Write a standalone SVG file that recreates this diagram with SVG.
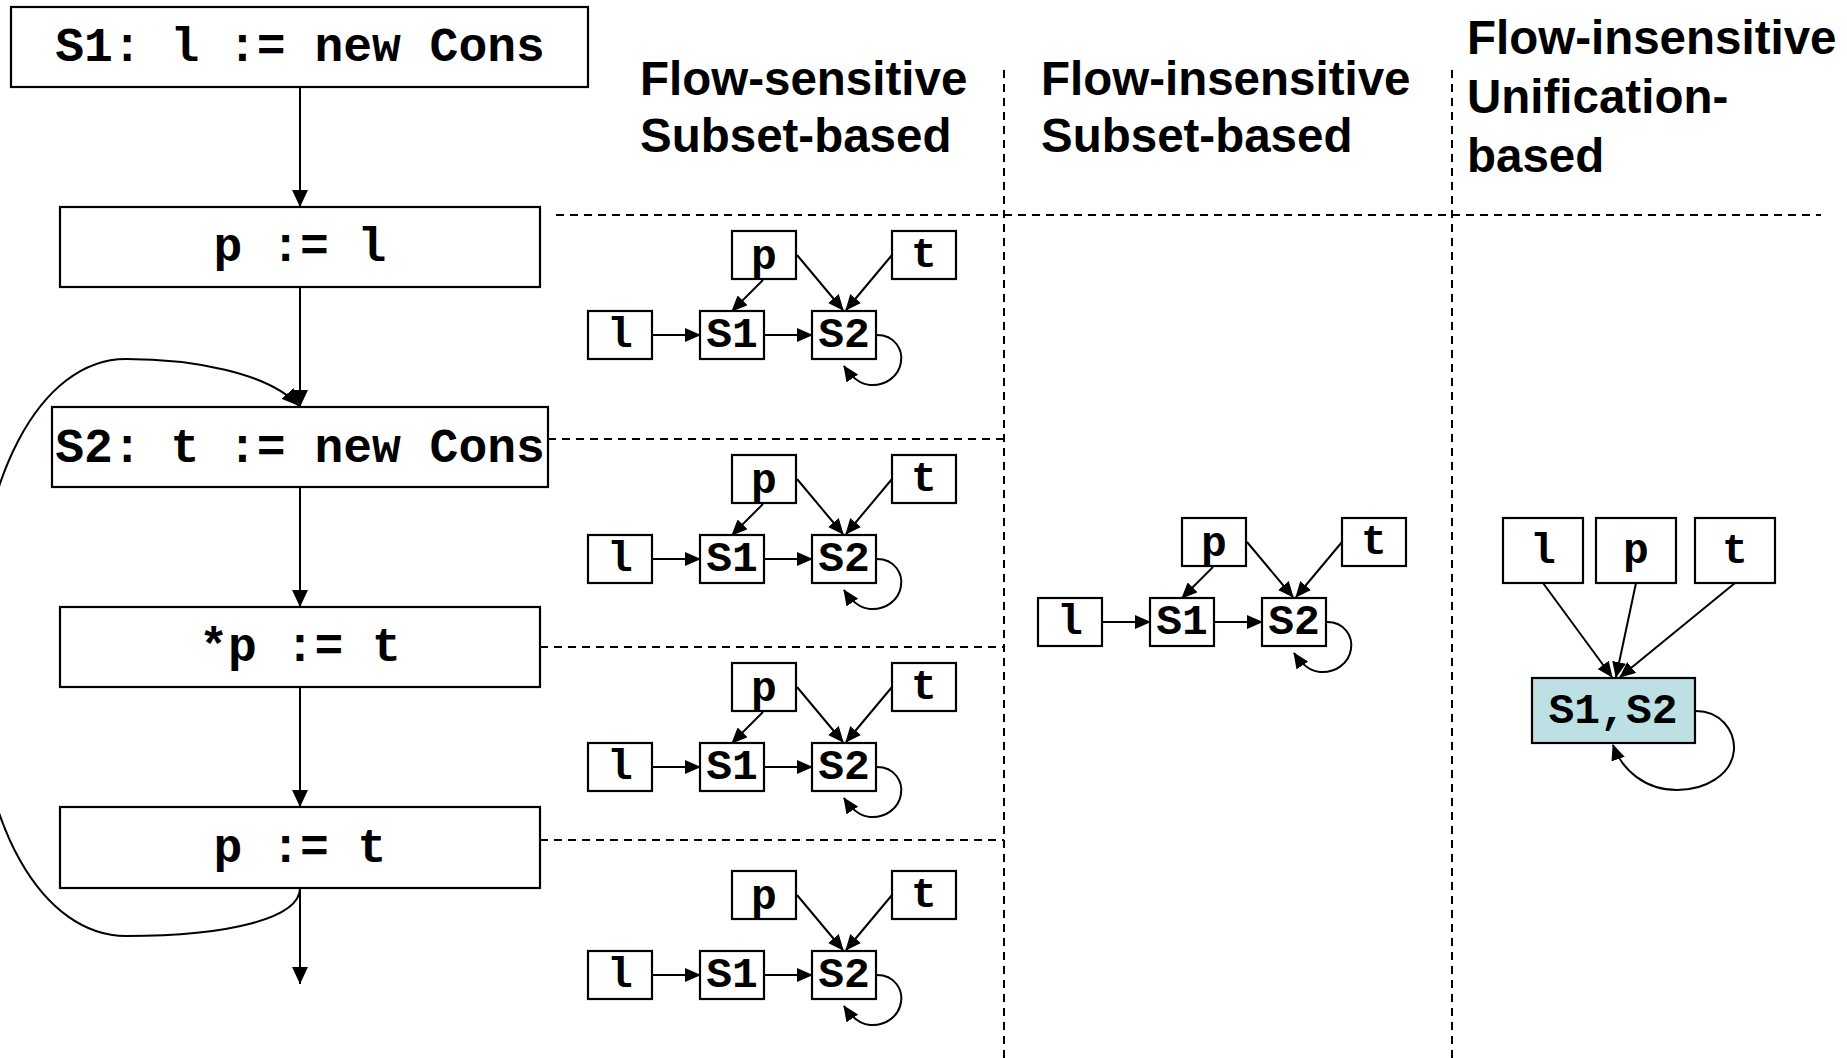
<svg xmlns="http://www.w3.org/2000/svg" width="1847" height="1058" viewBox="0 0 1847 1058">
<style>
.box{fill:#fff;stroke:#000;stroke-width:2.2}
.uni{fill:#bce0e3;stroke:#000;stroke-width:2.2}
.code{font-family:"Liberation Mono","Courier New",monospace;font-weight:bold;text-anchor:middle;fill:#000}
.big{font-size:48px}
.sm{font-size:43px}
.hdr{font-family:"Liberation Sans",Arial,sans-serif;font-weight:bold;font-size:47.5px;fill:#000}
.edge{fill:none;stroke:#000;stroke-width:2}
.dash{fill:none;stroke:#000;stroke-width:2;stroke-dasharray:8 6}
</style>
<defs>
<marker id="ah" markerUnits="userSpaceOnUse" markerWidth="16" markerHeight="14" refX="15" refY="7" orient="auto"><path d="M0,0 L16,7 L0,14 z" fill="#000"/></marker>
<marker id="ahb" markerUnits="userSpaceOnUse" markerWidth="17" markerHeight="16" refX="17" refY="8" orient="auto"><path d="M0,0 L17,8 L0,16 z" fill="#000"/></marker>
</defs>
<rect width="1847" height="1058" fill="#fff"/>

<g id="separators">
<line class="dash" x1="556" y1="215" x2="1821" y2="215"/>
<line class="dash" x1="548" y1="439" x2="1004" y2="439"/>
<line class="dash" x1="540" y1="647" x2="1004" y2="647"/>
<line class="dash" x1="540" y1="840" x2="1004" y2="840"/>
<line class="dash" x1="1004" y1="70" x2="1004" y2="1058"/>
<line class="dash" x1="1452" y1="70" x2="1452" y2="1058"/>
</g>

<g id="headers">
<text class="hdr" x="640" y="95">Flow-sensitive</text>
<text class="hdr" x="640" y="152">Subset-based</text>
<text class="hdr" x="1041" y="95">Flow-insensitive</text>
<text class="hdr" x="1041" y="152">Subset-based</text>
<text class="hdr" x="1467" y="54">Flow-insensitive</text>
<text class="hdr" x="1467" y="113">Unification-</text>
<text class="hdr" x="1467" y="172">based</text>
</g>

<g id="connectors">
<g id="cfg-edges">
<line class="edge" x1="300" y1="87" x2="300" y2="207" marker-end="url(#ahb)"/>
<line class="edge" x1="300" y1="287" x2="300" y2="407" marker-end="url(#ahb)"/>
<line class="edge" x1="300" y1="487" x2="300" y2="607" marker-end="url(#ahb)"/>
<line class="edge" x1="300" y1="687" x2="300" y2="807" marker-end="url(#ahb)"/>
<line class="edge" x1="300" y1="888" x2="300" y2="984" marker-end="url(#ahb)"/>
<path class="edge" d="M300,888 C300,918 230,936 126,936 C45,936 -25,830 -25,650 C-25,480 40,359 126,359 C190,359 268,372 299,406" marker-end="url(#ahb)"/>
</g>
<g id="g1-edges" transform="translate(588,231)">
<line class="edge" x1="65" y1="104" x2="112" y2="104" marker-end="url(#ah)"/>
<line class="edge" x1="177" y1="104" x2="224" y2="104" marker-end="url(#ah)"/>
<line class="edge" x1="175" y1="49" x2="144" y2="80" marker-end="url(#ah)"/>
<line class="edge" x1="209" y1="24" x2="255" y2="79" marker-end="url(#ah)"/>
<line class="edge" x1="304" y1="24" x2="258" y2="79" marker-end="url(#ah)"/>
<path class="edge" d="M289,104 C307,104 315,119 313,131 C311,145 298,155 282,154 C270,153 262,144 256,135" marker-end="url(#ah)"/>
</g>
<g id="g2-edges" transform="translate(588,455)">
<line class="edge" x1="65" y1="104" x2="112" y2="104" marker-end="url(#ah)"/>
<line class="edge" x1="177" y1="104" x2="224" y2="104" marker-end="url(#ah)"/>
<line class="edge" x1="175" y1="49" x2="144" y2="80" marker-end="url(#ah)"/>
<line class="edge" x1="209" y1="24" x2="255" y2="79" marker-end="url(#ah)"/>
<line class="edge" x1="304" y1="24" x2="258" y2="79" marker-end="url(#ah)"/>
<path class="edge" d="M289,104 C307,104 315,119 313,131 C311,145 298,155 282,154 C270,153 262,144 256,135" marker-end="url(#ah)"/>
</g>
<g id="g3-edges" transform="translate(588,663)">
<line class="edge" x1="65" y1="104" x2="112" y2="104" marker-end="url(#ah)"/>
<line class="edge" x1="177" y1="104" x2="224" y2="104" marker-end="url(#ah)"/>
<line class="edge" x1="175" y1="49" x2="144" y2="80" marker-end="url(#ah)"/>
<line class="edge" x1="209" y1="24" x2="255" y2="79" marker-end="url(#ah)"/>
<line class="edge" x1="304" y1="24" x2="258" y2="79" marker-end="url(#ah)"/>
<path class="edge" d="M289,104 C307,104 315,119 313,131 C311,145 298,155 282,154 C270,153 262,144 256,135" marker-end="url(#ah)"/>
</g>
<g id="g4-edges" transform="translate(588,871)">
<line class="edge" x1="65" y1="104" x2="112" y2="104" marker-end="url(#ah)"/>
<line class="edge" x1="177" y1="104" x2="224" y2="104" marker-end="url(#ah)"/>
<line class="edge" x1="209" y1="24" x2="255" y2="79" marker-end="url(#ah)"/>
<line class="edge" x1="304" y1="24" x2="258" y2="79" marker-end="url(#ah)"/>
<path class="edge" d="M289,104 C307,104 315,119 313,131 C311,145 298,155 282,154 C270,153 262,144 256,135" marker-end="url(#ah)"/>
</g>
<g id="fi-edges" transform="translate(1038,518)">
<line class="edge" x1="65" y1="104" x2="112" y2="104" marker-end="url(#ah)"/>
<line class="edge" x1="177" y1="104" x2="224" y2="104" marker-end="url(#ah)"/>
<line class="edge" x1="175" y1="49" x2="144" y2="80" marker-end="url(#ah)"/>
<line class="edge" x1="209" y1="24" x2="255" y2="79" marker-end="url(#ah)"/>
<line class="edge" x1="304" y1="24" x2="258" y2="79" marker-end="url(#ah)"/>
<path class="edge" d="M289,104 C307,104 315,119 313,131 C311,145 298,155 282,154 C270,153 262,144 256,135" marker-end="url(#ah)"/>
</g>
<g id="uni-edges">
<line class="edge" x1="1543" y1="583" x2="1612" y2="677" marker-end="url(#ah)"/>
<line class="edge" x1="1636" y1="583" x2="1616" y2="677" marker-end="url(#ah)"/>
<line class="edge" x1="1735" y1="583" x2="1620" y2="677" marker-end="url(#ah)"/>
<path class="edge" d="M1696,711 C1720,711 1735,730 1734,750 C1732,775 1705,790 1677,790 C1645,790 1622,770 1613,745" marker-end="url(#ah)"/>
</g>
</g>

<g id="n-s1"><rect class="box" x="11" y="7" width="577" height="80"/><text class="code big" x="300" y="61">S1: l := new Cons</text></g>
<g id="n-p-l"><rect class="box" x="60" y="207" width="480" height="80"/><text class="code big" x="300" y="261">p := l</text></g>
<g id="n-s2"><rect class="box" x="52" y="407" width="496" height="80"/><text class="code big" x="300" y="462">S2: t := new Cons</text></g>
<g id="n-star-p-t"><rect class="box" x="60" y="607" width="480" height="80"/><text class="code big" x="300" y="661">*p := t</text></g>
<g id="n-p-t"><rect class="box" x="60" y="807" width="480" height="81"/><text class="code big" x="300" y="862">p := t</text></g>

<g id="g1-p"><rect class="box" x="732" y="231" width="64" height="48"/><text class="code sm" x="764" y="269">p</text></g>
<g id="g1-t"><rect class="box" x="892" y="231" width="64" height="48"/><text class="code sm" x="924" y="267">t</text></g>
<g id="g1-l"><rect class="box" x="588" y="311" width="64" height="48"/><text class="code sm" x="620" y="347">l</text></g>
<g id="g1-S1"><rect class="box" x="700" y="311" width="64" height="48"/><text class="code sm" x="732" y="347">S1</text></g>
<g id="g1-S2"><rect class="box" x="812" y="311" width="64" height="48"/><text class="code sm" x="844" y="347">S2</text></g>

<g id="g2-p"><rect class="box" x="732" y="455" width="64" height="48"/><text class="code sm" x="764" y="493">p</text></g>
<g id="g2-t"><rect class="box" x="892" y="455" width="64" height="48"/><text class="code sm" x="924" y="491">t</text></g>
<g id="g2-l"><rect class="box" x="588" y="535" width="64" height="48"/><text class="code sm" x="620" y="571">l</text></g>
<g id="g2-S1"><rect class="box" x="700" y="535" width="64" height="48"/><text class="code sm" x="732" y="571">S1</text></g>
<g id="g2-S2"><rect class="box" x="812" y="535" width="64" height="48"/><text class="code sm" x="844" y="571">S2</text></g>

<g id="g3-p"><rect class="box" x="732" y="663" width="64" height="48"/><text class="code sm" x="764" y="701">p</text></g>
<g id="g3-t"><rect class="box" x="892" y="663" width="64" height="48"/><text class="code sm" x="924" y="699">t</text></g>
<g id="g3-l"><rect class="box" x="588" y="743" width="64" height="48"/><text class="code sm" x="620" y="779">l</text></g>
<g id="g3-S1"><rect class="box" x="700" y="743" width="64" height="48"/><text class="code sm" x="732" y="779">S1</text></g>
<g id="g3-S2"><rect class="box" x="812" y="743" width="64" height="48"/><text class="code sm" x="844" y="779">S2</text></g>

<g id="g4-p"><rect class="box" x="732" y="871" width="64" height="48"/><text class="code sm" x="764" y="909">p</text></g>
<g id="g4-t"><rect class="box" x="892" y="871" width="64" height="48"/><text class="code sm" x="924" y="907">t</text></g>
<g id="g4-l"><rect class="box" x="588" y="951" width="64" height="48"/><text class="code sm" x="620" y="987">l</text></g>
<g id="g4-S1"><rect class="box" x="700" y="951" width="64" height="48"/><text class="code sm" x="732" y="987">S1</text></g>
<g id="g4-S2"><rect class="box" x="812" y="951" width="64" height="48"/><text class="code sm" x="844" y="987">S2</text></g>

<g id="fi-p"><rect class="box" x="1182" y="518" width="64" height="48"/><text class="code sm" x="1214" y="556">p</text></g>
<g id="fi-t"><rect class="box" x="1342" y="518" width="64" height="48"/><text class="code sm" x="1374" y="554">t</text></g>
<g id="fi-l"><rect class="box" x="1038" y="598" width="64" height="48"/><text class="code sm" x="1070" y="634">l</text></g>
<g id="fi-S1"><rect class="box" x="1150" y="598" width="64" height="48"/><text class="code sm" x="1182" y="634">S1</text></g>
<g id="fi-S2"><rect class="box" x="1262" y="598" width="64" height="48"/><text class="code sm" x="1294" y="634">S2</text></g>

<g id="u-l"><rect class="box" x="1503" y="518" width="80" height="65"/><text class="code sm" x="1543" y="563">l</text></g>
<g id="u-p"><rect class="box" x="1596" y="518" width="80" height="65"/><text class="code sm" x="1636" y="563">p</text></g>
<g id="u-t"><rect class="box" x="1695" y="518" width="80" height="65"/><text class="code sm" x="1735" y="563">t</text></g>
<g id="u-S1S2"><rect class="uni" x="1532" y="678" width="163" height="65"/><text class="code sm" x="1613" y="723">S1,S2</text></g>
</svg>
